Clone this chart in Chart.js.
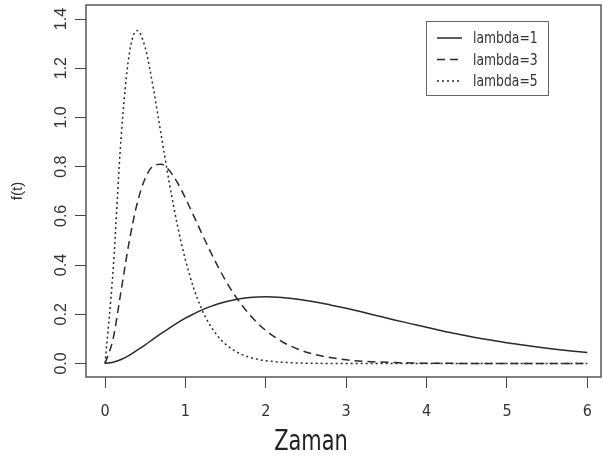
<!DOCTYPE html>
<html>
<head>
<meta charset="utf-8">
<script src="https://cdn.jsdelivr.net/npm/chart.js@4.4.1/dist/chart.umd.min.js"></script>
<style>
  html, body { margin: 0; padding: 0; background: #fff; }
  #wrap { width: 603px; height: 459px; }
</style>
</head>
<body>
<div id="wrap"><canvas id="densityChart" width="603" height="459"></canvas></div>
<script>
// zaman noktalari (0-2 arasi 0.1, sonra 0.2 adim)
const zaman = [0, 0.1, 0.2, 0.3, 0.4, 0.5, 0.6, 0.7, 0.8, 0.9, 1.0, 1.1, 1.2, 1.3, 1.4, 1.5, 1.6, 1.7, 1.8, 1.9, 2.0,
  2.2, 2.4, 2.6, 2.8, 3.0, 3.2, 3.4, 3.6, 3.8, 4.0, 4.2, 4.4, 4.6, 4.8, 5.0, 5.2, 5.4, 5.6, 5.8, 6.0];

// f(t) degerleri
const lambda1 = [0, 0.005, 0.016, 0.033, 0.054, 0.076, 0.099, 0.122, 0.144, 0.165, 0.184, 0.201, 0.217, 0.230, 0.242, 0.251, 0.258, 0.264, 0.268, 0.270, 0.271,
  0.268, 0.261, 0.251, 0.238, 0.224, 0.209, 0.193, 0.177, 0.162, 0.147, 0.132, 0.119, 0.106, 0.095, 0.084, 0.075, 0.066, 0.058, 0.051, 0.045];
const lambda3 = [0, 0.100, 0.296, 0.494, 0.651, 0.753, 0.803, 0.810, 0.784, 0.735, 0.672, 0.602, 0.531, 0.462, 0.397, 0.337, 0.284, 0.238, 0.198, 0.163, 0.134,
  0.089, 0.058, 0.037, 0.024, 0.015, 0.009, 0.006, 0.004, 0.002, 0.001, 0.001, 0, 0, 0, 0, 0, 0, 0, 0, 0];
const lambda5 = [0, 0.379, 0.920, 1.255, 1.353, 1.283, 1.120, 0.925, 0.733, 0.562, 0.421, 0.309, 0.223, 0.159, 0.112, 0.078, 0.054, 0.037, 0.025, 0.017, 0.011,
  0.005, 0.002, 0.001, 0, 0, 0, 0, 0, 0, 0, 0, 0, 0, 0, 0, 0, 0, 0, 0, 0];

const seriesNames = ['lambda=1', 'lambda=3', 'lambda=5'];
const xTicks = [0, 1, 2, 3, 4, 5, 6];
const yTicks = [0, 0.2, 0.4, 0.6, 0.8, 1.0, 1.2, 1.4];

const NARROW = "'Liberation Sans Narrow', 'DejaVu Sans Condensed', sans-serif";
const PLAIN = "'Liberation Sans', Arial, sans-serif";
const INK = '#2a2a2a';

function toPoints(values) {
  return zaman.map((t, i) => ({ x: t, y: values[i] }));
}

// yatayda sikistirilmis yazi
function squeezedText(ctx, text, x, y, sx) {
  ctx.save();
  ctx.translate(x, y);
  ctx.scale(sx, 1);
  ctx.fillText(text, 0, 0);
  ctx.restore();
}

// cerceve (R box)
const frameBox = {
  id: 'frameBox',
  afterDatasetsDraw(chart) {
    const { ctx, chartArea: a } = chart;
    ctx.save();
    ctx.strokeStyle = '#555';
    ctx.lineWidth = 1.5;
    ctx.strokeRect(a.left, a.top, a.right - a.left, a.bottom - a.top);
    ctx.restore();
  }
};

// sag ustteki aciklama kutusu
const boxLegend = {
  id: 'boxLegend',
  afterDraw(chart) {
    const ctx = chart.ctx;
    const bx = 426, by = 21, bw = 122, bh = 74;
    ctx.save();
    ctx.fillStyle = '#fff';
    ctx.fillRect(bx, by, bw, bh);
    ctx.strokeStyle = '#666';
    ctx.lineWidth = 1;
    ctx.strokeRect(bx + 0.5, by + 0.5, bw, bh);
    chart.data.datasets.forEach((ds, i) => {
      const y = 38 + i * 21.5;
      ctx.strokeStyle = ds.borderColor;
      ctx.lineWidth = ds.borderWidth;
      ctx.setLineDash(ds.borderDash || []);
      ctx.beginPath();
      ctx.moveTo(437, y);
      ctx.lineTo(462, y);
      ctx.stroke();
      ctx.setLineDash([]);
      ctx.fillStyle = '#333';
      ctx.font = '16px ' + NARROW;
      ctx.textAlign = 'left';
      ctx.textBaseline = 'middle';
      squeezedText(ctx, ds.label, 473, y + 1, 0.86);
    });
    ctx.restore();
  }
};

// x ekseni basligi
const zamanTitle = {
  id: 'zamanTitle',
  afterDraw(chart) {
    const ctx = chart.ctx;
    ctx.save();
    ctx.fillStyle = '#222';
    ctx.font = '28px ' + NARROW;
    ctx.textAlign = 'center';
    ctx.textBaseline = 'middle';
    squeezedText(ctx, 'Zaman', 311, 443, 0.83);
    ctx.restore();
  }
};

const dashes = [[], [8, 5], [2, 3]];
const values = [lambda1, lambda3, lambda5];

new Chart(document.getElementById('densityChart'), {
  type: 'line',
  data: {
    datasets: seriesNames.map((name, i) => ({
      label: name,
      data: toPoints(values[i]),
      borderColor: INK,
      borderWidth: 1.5,
      borderDash: dashes[i],
      pointRadius: 0,
      fill: false,
      cubicInterpolationMode: 'monotone'
    }))
  },
  options: {
    responsive: false,
    devicePixelRatio: 1,
    animation: false,
    layout: { padding: { top: 5, right: 2, left: 0, bottom: 0 } },
    plugins: { legend: { display: false }, tooltip: { enabled: false } },
    scales: {
      x: {
        type: 'linear',
        min: -0.237,
        max: 6.17,
        afterBuildTicks: s => { s.ticks = xTicks.map(v => ({ value: v })); },
        afterFit: s => { s.height = 82; s.paddingLeft = 0; s.paddingRight = 0; },
        grid: { drawOnChartArea: false, drawTicks: true, tickLength: 11, color: '#444', lineWidth: 1 },
        border: { display: false },
        ticks: {
          font: { family: NARROW, size: 16 },
          color: '#333',
          padding: 14,
          maxRotation: 0,
          autoSkip: false,
          callback: v => String(v)
        }
      },
      y: {
        min: -0.055,
        max: 1.457,
        afterBuildTicks: s => { s.ticks = yTicks.map(v => ({ value: v })); },
        afterFit: s => { s.width = 86; s.paddingTop = 0; s.paddingBottom = 0; },
        grid: { drawOnChartArea: false, drawTicks: true, tickLength: 11, color: '#444', lineWidth: 1 },
        border: { display: false },
        ticks: {
          font: { family: PLAIN, size: 16 },
          color: '#333',
          minRotation: 90,
          maxRotation: 90,
          crossAlign: 'center',
          padding: 2,
          autoSkip: false,
          callback: v => v.toFixed(1)
        },
        title: {
          display: true,
          text: 'f(t)',
          color: '#333',
          font: { family: PLAIN, size: 15 },
          padding: { top: 9, bottom: 0 }
        }
      }
    }
  },
  plugins: [frameBox, boxLegend, zamanTitle]
});
</script>
</body>
</html>
